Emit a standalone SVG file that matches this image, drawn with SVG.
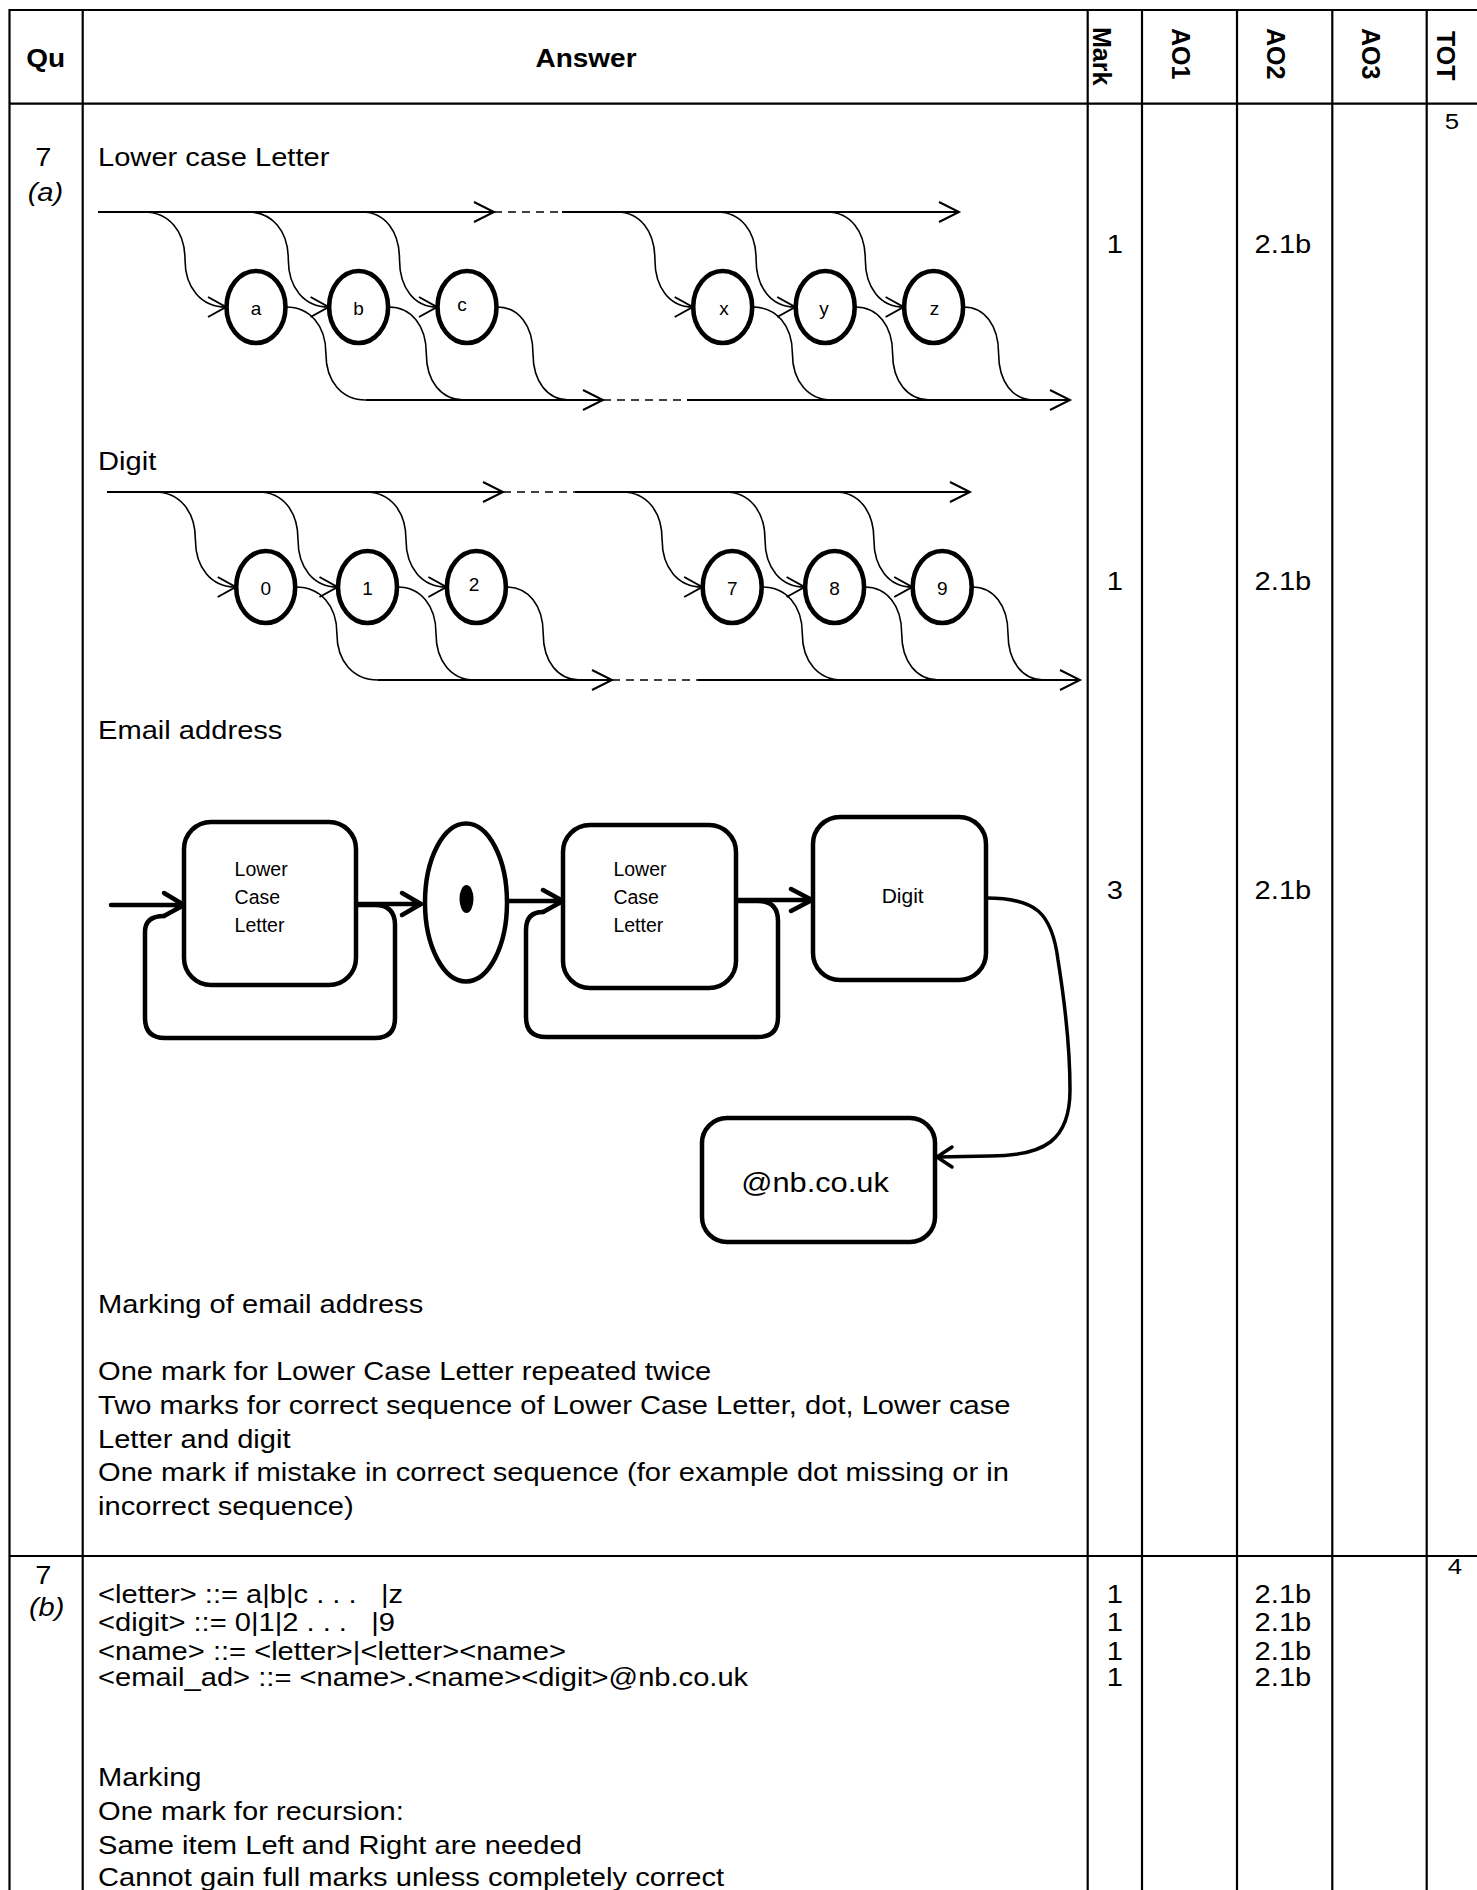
<svg xmlns="http://www.w3.org/2000/svg" width="1477" height="1890" viewBox="0 0 1477 1890">
<style>
.t{font-family:"Liberation Sans",Arial,Helvetica,sans-serif;font-size:26px;fill:#000}
.b{font-weight:bold;font-size:25px}
.grid{stroke:#000;stroke-width:2.2;fill:none}
.rl{stroke:#000;stroke-width:2.2;fill:none}
.cv{stroke:#000;stroke-width:1.6;fill:none}
.ds{stroke:#000;stroke-width:1.6;fill:none;stroke-dasharray:8 6}
.ah{stroke:#000;stroke-width:2;fill:none}
.cir{stroke:#000;stroke-width:4.6;fill:#fff}
.lbl{font-family:"Liberation Sans",Arial,Helvetica,sans-serif;font-size:19px;fill:#000;text-anchor:middle}
.box{stroke:#000;stroke-width:4.5;fill:#fff}
.th{stroke:#000;stroke-width:4.5;fill:none;stroke-linecap:round;stroke-linejoin:round}
.bt{font-family:"Liberation Sans",Arial,Helvetica,sans-serif;font-size:19.5px;fill:#000}
</style>
<rect width="1477" height="1890" fill="#fff"/>

<g id="table" class="grid">
<path d="M9.5,10 H1477 M9.5,103.7 H1477 M9.5,1556 H1477"/>
<path d="M9.5,9 V1890 M82.7,10 V1890 M1087.7,10 V1890 M1142,10 V1890 M1237,10 V1890 M1332.3,10 V1890 M1426.7,10 V1890"/>
</g>

<g id="header-rotated" class="t b">
<text transform="translate(1093,27) rotate(90)">Mark</text>
<text transform="translate(1172,28) rotate(90)">AO1</text>
<text transform="translate(1267,28) rotate(90)">AO2</text>
<text transform="translate(1362,28) rotate(90)">AO3</text>
<text transform="translate(1437,31) rotate(90)">TOT</text>
</g>

<g id="texts" class="t" transform="scale(1.12,1)">
<text class="b" x="40.8" y="66.7" text-anchor="middle">Qu</text>
<text class="b" x="523.2" y="67" text-anchor="middle">Answer</text>
<text x="1296.4" y="129" style="font-size:23px" text-anchor="middle">5</text>
<text x="38.7" y="166.5" text-anchor="middle">7</text>
<text x="40.6" y="201.5" text-anchor="middle" font-style="italic">(a)</text>
<text x="87.5" y="165.7">Lower case Letter</text>
<text x="995.5" y="253" text-anchor="middle">1</text>
<text x="1145.5" y="253" text-anchor="middle">2.1b</text>
<text x="87.5" y="470">Digit</text>
<text x="995.5" y="590" text-anchor="middle">1</text>
<text x="1145.5" y="590" text-anchor="middle">2.1b</text>
<text x="87.5" y="739">Email address</text>
<text x="995.5" y="899" text-anchor="middle">3</text>
<text x="1145.5" y="899" text-anchor="middle">2.1b</text>
<text x="87.5" y="1312.7">Marking of email address</text>
<text x="87.5" y="1380">One mark for Lower Case Letter repeated twice</text>
<text x="87.5" y="1414">Two marks for correct sequence of Lower Case Letter, dot, Lower case</text>
<text x="87.5" y="1447.7">Letter and digit</text>
<text x="87.5" y="1481.5">One mark if mistake in correct sequence (for example dot missing or in</text>
<text x="87.5" y="1515">incorrect sequence)</text>

<text x="1299.1" y="1574" style="font-size:23px" text-anchor="middle">4</text>
<text x="38.7" y="1584" text-anchor="middle">7</text>
<text x="41.7" y="1616.5" text-anchor="middle" font-style="italic">(b)</text>
<text x="87.5" y="1603" xml:space="preserve">&lt;letter&gt; ::= a|b|c . . .   |z</text>
<text x="87.5" y="1631" xml:space="preserve">&lt;digit&gt; ::= 0|1|2 . . .   |9</text>
<text x="87.5" y="1660">&lt;name&gt; ::= &lt;letter&gt;|&lt;letter&gt;&lt;name&gt;</text>
<text x="87.5" y="1686.5">&lt;email_ad&gt; ::= &lt;name&gt;.&lt;name&gt;&lt;digit&gt;@nb.co.uk</text>
<text x="995.5" y="1603" text-anchor="middle">1</text>
<text x="995.5" y="1631" text-anchor="middle">1</text>
<text x="995.5" y="1660" text-anchor="middle">1</text>
<text x="995.5" y="1686.5" text-anchor="middle">1</text>
<text x="1145.5" y="1603" text-anchor="middle">2.1b</text>
<text x="1145.5" y="1631" text-anchor="middle">2.1b</text>
<text x="1145.5" y="1660" text-anchor="middle">2.1b</text>
<text x="1145.5" y="1686.5" text-anchor="middle">2.1b</text>
<text x="87.5" y="1786">Marking</text>
<text x="87.5" y="1820">One mark for recursion:</text>
<text x="87.5" y="1854">Same item Left and Right are needed</text>
<text x="87.5" y="1886">Cannot gain full marks unless completely correct</text>
</g>

<!-- Lower case letter railroad -->
<g id="letter-connectors">
<path class="rl" d="M98,212 H494 M562,212 H959 M365.7,400 H603 M687,400 H1070"/>
<path class="ds" d="M494,212 H562 M603,400 H687"/>
<path class="ah" d="M474,202 L494,212 L474,222 M939,202 L959,212 L939,222 M583,390 L603,400 L583,410 M1050,390 L1070,400 L1050,410"/>
<path class="cv" d="M144,212 C168.6,212 185,231 185,259.5 C185,288 201.4,307 226,307
M248,212 C272.2,212 288.3,231 288.3,259.5 C288.3,288 304.4,307 328.6,307
M362,212 C384.5,212 399.5,231 399.5,259.5 C399.5,288 414.5,307 437,307
M617,212 C639.7,212 654.9,231 654.9,259.5 C654.9,288 670,307 692.7,307
M717,212 C740.5,212 756.1,231 756.1,259.5 C756.1,288 771.7,307 795.2,307
M827,212 C850,212 865.3,231 865.3,259.5 C865.3,288 880.6,307 903.6,307"/>
<path class="cv" d="M286,307 C309.9,307 325.9,325.6 325.9,353.5 C325.9,381.4 341.9,400 365.7,400
M388.6,307 C411.2,307 426.3,325.6 426.3,353.5 C426.3,381.4 441.4,400 464,400
M497,307 C518.6,307 533,325.6 533,353.5 C533,381.4 547.4,400 569,400
M752.7,307 C776.5,307 792.4,325.6 792.4,353.5 C792.4,381.4 808.3,400 832,400
M855.2,307 C877.6,307 892.6,325.6 892.6,353.5 C892.6,381.4 907.6,400 930,400
M963.6,307 C984.6,307 998.6,325.6 998.6,353.5 C998.6,381.4 1012.6,400 1033.5,400"/>
<path class="ah" d="M208,297 L226,307 L208,317 M310.6,297 L328.6,307 L310.6,317 M419,297 L437,307 L419,317 M674.7,297 L692.7,307 L674.7,317 M777.2,297 L795.2,307 L777.2,317 M885.6,297 L903.6,307 L885.6,317"/>
</g>
<g id="node-a"><ellipse class="cir" cx="256" cy="307" rx="29.5" ry="36"/><text class="lbl" x="256" y="315">a</text></g>
<g id="node-b"><ellipse class="cir" cx="358.6" cy="307" rx="29.5" ry="36"/><text class="lbl" x="358.6" y="315">b</text></g>
<g id="node-c"><ellipse class="cir" cx="467" cy="307" rx="29.5" ry="36"/><text class="lbl" x="462" y="311">c</text></g>
<g id="node-x"><ellipse class="cir" cx="722.7" cy="307" rx="29.5" ry="36"/><text class="lbl" x="724" y="315">x</text></g>
<g id="node-y"><ellipse class="cir" cx="825.2" cy="307" rx="29.5" ry="36"/><text class="lbl" x="824" y="315">y</text></g>
<g id="node-z"><ellipse class="cir" cx="933.6" cy="307" rx="29.5" ry="36"/><text class="lbl" x="934.5" y="315">z</text></g>

<!-- Digit railroad -->
<g id="digit-connectors">
<path class="rl" d="M107,492 H503 M574.6,492 H970 M378,680 H612 M698,680 H1080"/>
<path class="ds" d="M503,492 H574.6 M612,680 H698"/>
<path class="ah" d="M483,482 L503,492 L483,502 M950,482 L970,492 L950,502 M592,670 L612,680 L592,690 M1060,670 L1080,680 L1060,690"/>
<path class="cv" d="M155,492 C179.2,492 195.4,511 195.4,539.5 C195.4,568 211.5,587 235.7,587
M258.6,492 C282.3,492 298,511 298,539.5 C298,568 313.8,587 337.5,587
M365.7,492 C389.9,492 406,511 406,539.5 C406,568 422.2,587 446.4,587
M622,492 C646.1,492 662.1,511 662.1,539.5 C662.1,568 678.1,587 702.2,587
M725.3,492 C749.1,492 765,511 765,539.5 C765,568 780.8,587 804.6,587
M835.5,492 C858.5,492 873.9,511 873.9,539.5 C873.9,568 889.2,587 912.2,587"/>
<path class="cv" d="M295.7,587 C320.4,587 336.9,605.6 336.9,633.5 C336.9,661.4 353.3,680 378,680
M397.5,587 C420.6,587 436,605.6 436,633.5 C436,661.4 451.5,680 474.6,680
M506.4,587 C528.5,587 543.2,605.6 543.2,633.5 C543.2,661.4 557.9,680 580,680
M762.2,587 C786.3,587 802.3,605.6 802.3,633.5 C802.3,661.4 818.3,680 842.4,680
M864.6,587 C886.9,587 901.7,605.6 901.7,633.5 C901.7,661.4 916.5,680 938.8,680
M972.2,587 C993.7,587 1008,605.6 1008,633.5 C1008,661.4 1022.3,680 1043.8,680"/>
<path class="ah" d="M217.7,577 L235.7,587 L217.7,597 M319.5,577 L337.5,587 L319.5,597 M428.4,577 L446.4,587 L428.4,597 M684.2,577 L702.2,587 L684.2,597 M786.6,577 L804.6,587 L786.6,597 M894.2,577 L912.2,587 L894.2,597"/>
</g>
<g id="node-0"><ellipse class="cir" cx="265.7" cy="587" rx="29.5" ry="36"/><text class="lbl" x="265.7" y="595">0</text></g>
<g id="node-1"><ellipse class="cir" cx="367.5" cy="587" rx="29.5" ry="36"/><text class="lbl" x="367.5" y="595">1</text></g>
<g id="node-2"><ellipse class="cir" cx="476.4" cy="587" rx="29.5" ry="36"/><text class="lbl" x="474" y="591">2</text></g>
<g id="node-7"><ellipse class="cir" cx="732.2" cy="587" rx="29.5" ry="36"/><text class="lbl" x="732.2" y="595">7</text></g>
<g id="node-8"><ellipse class="cir" cx="834.6" cy="587" rx="29.5" ry="36"/><text class="lbl" x="834.6" y="595">8</text></g>
<g id="node-9"><ellipse class="cir" cx="942.2" cy="587" rx="29.5" ry="36"/><text class="lbl" x="942.2" y="595">9</text></g>

<!-- Email address diagram -->
<g id="email-connectors">
<path class="th" d="M111,905 H184 M164,893 L184,905 L164,916"/>
<path class="th" d="M356,905 H375 Q395,905 395,925 V1018 Q395,1038 375,1038 H165 Q145,1038 145,1018 V932 Q145,916 164,916"/>
<path class="th" d="M356,904 H421 M402,893 L421,904 L402,915"/>
<path class="th" d="M509,901 H563 M543,890 L563,901 L543,912"/>
<path class="th" d="M736,901 H758 Q778,901 778,921 V1017 Q778,1037 758,1037 H546 Q526,1037 526,1017 V930 Q526,912 543,912"/>
<path class="th" d="M736,900 H812 M791,889 L812,900 L791,911"/>
<path d="M986,898 C1035,898 1052,912 1058,960 C1066,1010 1070,1050 1070,1090 C1070,1140 1045,1156 990,1156 L938,1157" fill="none" stroke="#000" stroke-width="3.5"/>
<path class="th" d="M952,1147 L937,1157 L952,1167" style="stroke-width:3.5"/>
</g>
<g id="node-lcl1"><rect class="box" x="184" y="822" width="172" height="163" rx="27"/>
<text class="bt" x="234.6" y="876">Lower</text><text class="bt" x="234.6" y="904">Case</text><text class="bt" x="234.6" y="932">Letter</text></g>
<g id="node-dot"><ellipse class="box" cx="466" cy="902.5" rx="41" ry="79"/><ellipse cx="466.5" cy="899" rx="7" ry="14" fill="#000"/></g>
<g id="node-lcl2"><rect class="box" x="563" y="825" width="173" height="163" rx="27"/>
<text class="bt" x="613.4" y="876">Lower</text><text class="bt" x="613.4" y="904">Case</text><text class="bt" x="613.4" y="932">Letter</text></g>
<g id="node-digit"><rect class="box" x="813" y="817" width="173" height="163" rx="27"/>
<text class="t" x="902.7" y="903" style="font-size:21px" text-anchor="middle">Digit</text></g>
<g id="node-domain"><rect class="box" x="702" y="1118" width="233" height="124" rx="25"/>
<text class="t" transform="translate(815,1192) scale(1.08,1)" style="font-size:28.5px" text-anchor="middle">@nb.co.uk</text></g>
</svg>
